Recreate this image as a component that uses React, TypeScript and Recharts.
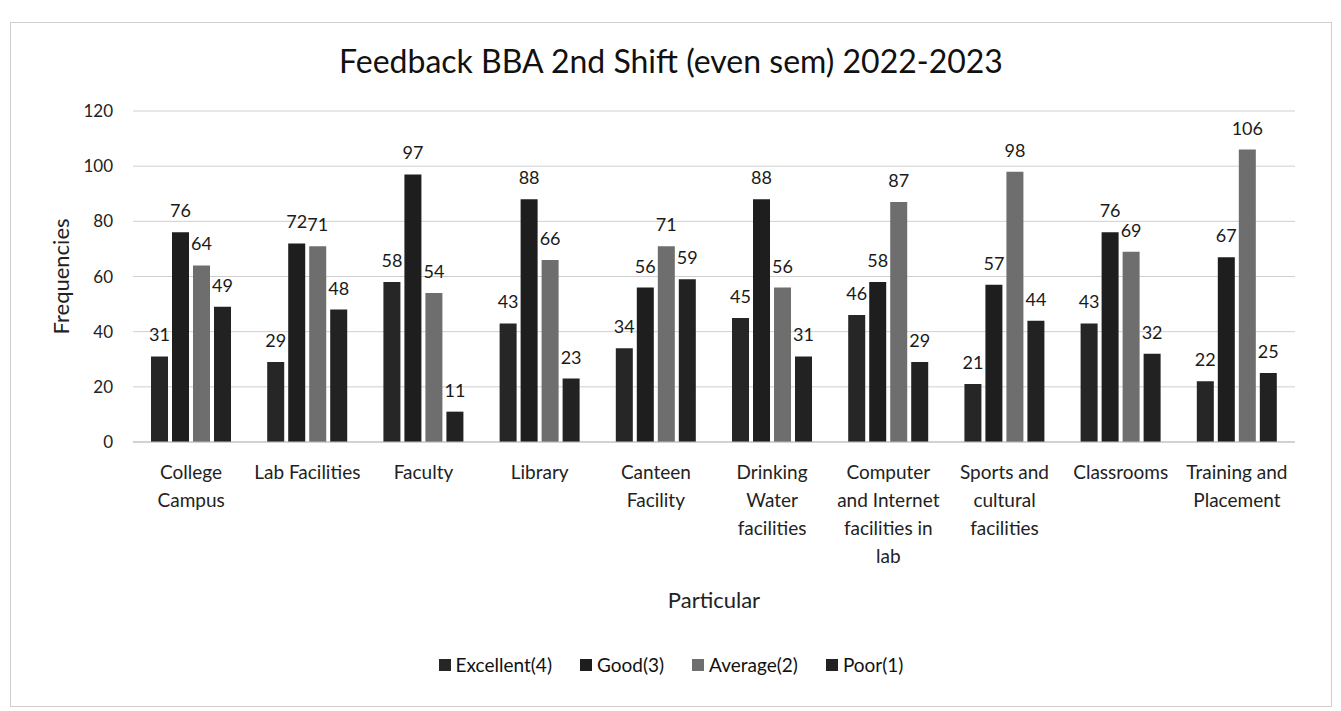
import { Bar, BarChart, CartesianGrid, LabelList, XAxis, YAxis } from "recharts";

const categories = [
  "College Campus",
  "Lab Facilities",
  "Faculty",
  "Library",
  "Canteen Facility",
  "Drinking Water facilities",
  "Computer and Internet facilities in lab",
  "Sports and cultural facilities",
  "Classrooms",
  "Training and Placement",
];

// lignes des libellés de l'axe X, comme dans l'original
const categoryLines = [
  ["College", "Campus"],
  ["Lab Facilities"],
  ["Faculty"],
  ["Library"],
  ["Canteen", "Facility"],
  ["Drinking", "Water", "facilities"],
  ["Computer", "and Internet", "facilities in", "lab"],
  ["Sports and", "cultural", "facilities"],
  ["Classrooms"],
  ["Training and", "Placement"],
];

const excellent = [31, 29, 58, 43, 34, 45, 46, 21, 43, 22];
const good = [76, 72, 97, 88, 56, 88, 58, 57, 76, 67];
const average = [64, 71, 54, 66, 71, 56, 87, 98, 69, 106];
const poor = [49, 48, 11, 23, 59, 31, 29, 44, 32, 25];

const yTicks = [0, 20, 40, 60, 80, 100, 120];

const series = [
  { key: "excellent", name: "Excellent(4)", color: "#262626" },
  { key: "good", name: "Good(3)", color: "#1e1e1e" },
  { key: "average", name: "Average(2)", color: "#6e6e6e" },
  { key: "poor", name: "Poor(1)", color: "#222222" },
];

const data = categories.map((name, i) => ({
  name,
  excellent: excellent[i],
  good: good[i],
  average: average[i],
  poor: poor[i],
}));

const FONT = "Lato, 'Open Sans', sans-serif";

function CategoryTick(props: any) {
  const { x, y, index } = props;
  const lines = categoryLines[index] ?? [];
  return (
    <g transform={`translate(${x},${y})`}>
      {lines.map((l, k) => (
        <text
          key={k}
          x={0}
          y={29 + k * 28}
          textAnchor="middle"
          fontSize={19}
          fontFamily={FONT}
          fill="#222"
        >
          {l}
        </text>
      ))}
    </g>
  );
}

export default function App() {
  return (
    <div
      style={{
        position: "relative",
        width: 1320,
        height: 683,
        marginTop: 14,
        marginLeft: 2,
        border: "1px solid #cfcfcf",
        background: "#fff",
        fontFamily: FONT,
      }}
    >
      <div
        style={{
          position: "absolute",
          top: 18,
          left: 0,
          width: "100%",
          textAlign: "center",
          fontSize: 32,
          color: "#111",
        }}
      >
        Feedback BBA 2nd Shift (even sem) 2022-2023
      </div>
      <BarChart
        width={1320}
        height={683}
        data={data}
        margin={{ top: 88, right: 36, bottom: 94, left: 40 }}
        barCategoryGap="15.5%"
        barGap={4}
      >
        <CartesianGrid vertical={false} stroke="#cfcfcf" />
        <XAxis
          dataKey="name"
          tick={<CategoryTick />}
          tickLine={false}
          axisLine={{ stroke: "#bdbdbd" }}
          interval={0}
          height={170}
          label={{
            value: "Particular",
            position: "insideBottom",
            offset: 4,
            fontSize: 22,
            fontFamily: FONT,
            fill: "#222",
          }}
        />
        <YAxis
          domain={[0, 120]}
          ticks={yTicks}
          width={82}
          tickLine={false}
          axisLine={false}
          tickMargin={14}
          tick={{ fontSize: 17, fontFamily: FONT, fill: "#222" }}
          label={{
            value: "Frequencies",
            angle: -90,
            position: "insideLeft",
            offset: 10,
            style: { textAnchor: "middle" },
            fontSize: 22,
            fontFamily: FONT,
            fill: "#222",
          }}
        />
        {series.map((s) => (
          <Bar key={s.key} dataKey={s.key} name={s.name} fill={s.color} isAnimationActive={false}>
            <LabelList
              dataKey={s.key}
              position="top"
              offset={15}
              fontSize={18}
              fontFamily={FONT}
              fill="#1a1a1a"
            />
          </Bar>
        ))}
      </BarChart>
      <div
        style={{
          position: "absolute",
          top: 630,
          left: 0,
          width: "100%",
          display: "flex",
          justifyContent: "center",
          gap: 28,
          fontSize: 19,
          color: "#111",
        }}
      >
        {series.map((s) => (
          <span key={s.key} style={{ display: "flex", alignItems: "center", gap: 5 }}>
            <span style={{ width: 12, height: 12, background: s.color, display: "inline-block" }} />
            {s.name}
          </span>
        ))}
      </div>
    </div>
  );
}
